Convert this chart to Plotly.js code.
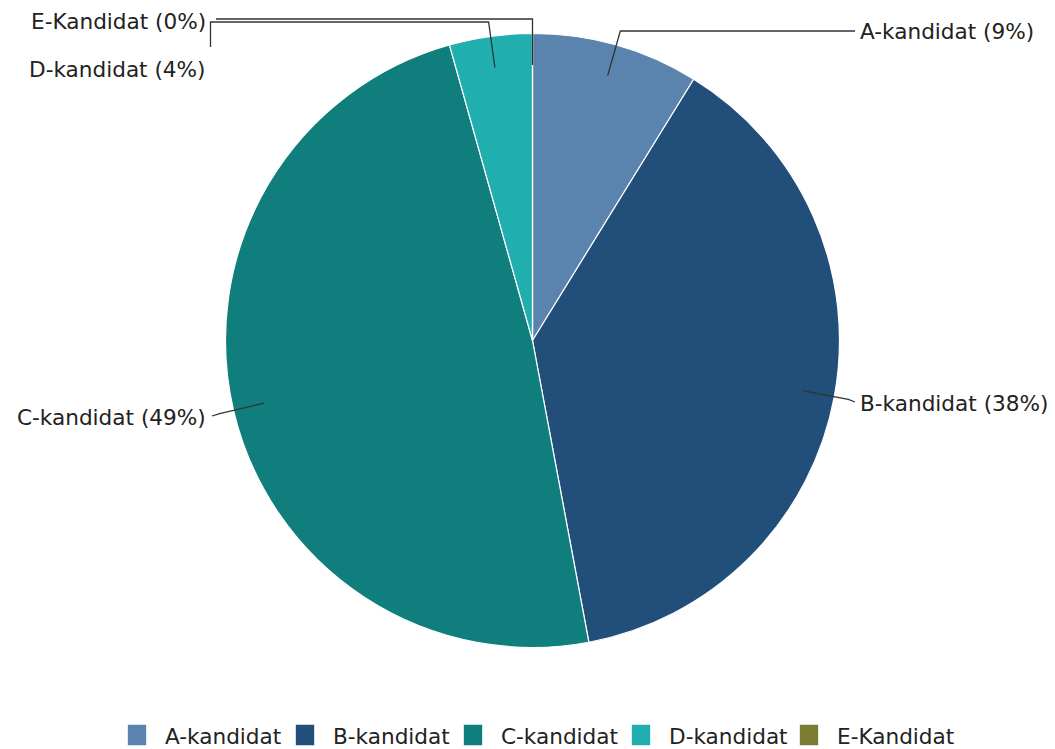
<!DOCTYPE html>
<html>
<head>
<meta charset="utf-8">
<script src="https://cdn.plot.ly/plotly-3.0.1.min.js"></script>
<style>
  html, body { margin: 0; padding: 0; background: #fff; }
  #chart { width: 1055px; height: 749px; }
</style>
</head>
<body>
<div id="chart"></div>
<script>
// ---- data ----
const categories = ["A-kandidat", "B-kandidat", "C-kandidat", "D-kandidat", "E-Kandidat"];
const values = [8.8, 38.26, 48.58, 4.36, 0];
const colors = ["#5a83ad", "#224e7a", "#107e7d", "#20aeae", "#7b7b32"];

// ---- layout constants ----
const W = 1055, H = 749;
const CX = 532.5, CY = 340.5, R = 306;
const LEGEND_Y = 736;
const FONT = "DejaVu Sans, Verdana, sans-serif";
const FS = 21.6;
const TEXT_COLOR = "#222222";
const LINE_COLOR = "#333333";

// whole figure is the plot area; pie placed via its domain
const px = X => X / W;
const py = Y => 1 - Y / H;

const total = values.reduce((a, b) => a + b, 0);
let cum = 0;
const mids = values.map(v => { const m = (cum + v / 2) / total; cum += v; return m * 2 * Math.PI; });

function pointAt(theta, r) { return [CX + r * Math.sin(theta), CY - r * Math.cos(theta)]; }
function radiusToY(theta, y) { return (CY - y) / Math.cos(theta); }

// label placement (side, label position, leader route)
const labelSpec = [
  { side: "right", x: 858, y: 32, route: "toY", elbowY: 31, extra: [[855, 31]] },
  { side: "right", x: 858, y: 403, route: "toR", rf: 1.05, extra: [[855, 402]] },
  { side: "left", x: 208, y: 417, route: "toR", rf: 1.05, extra: [[212, 416]] },
  { side: "left", x: 208, y: 69, route: "toY", elbowY: 22, extra: [[210.5, 22], [210.5, 47]] },
  { side: "left", x: 208, y: 21, route: "toY", elbowY: 19, extra: [[216, 19]] }
];

const shapes = [], annotations = [];
categories.forEach((c, i) => {
  const t = mids[i];
  const s = labelSpec[i];
  const pts = [pointAt(t, 0.9 * R)];
  if (s.route === "toY") pts.push(pointAt(t, radiusToY(t, s.elbowY)));
  else pts.push(pointAt(t, s.rf * R));
  s.extra.forEach(p => pts.push(p));
  const path = pts.map((p, k) => (k ? "L" : "M") + px(p[0]).toFixed(5) + "," + py(p[1]).toFixed(5)).join(" ");
  shapes.push({ type: "path", xref: "paper", yref: "paper", path: path,
    line: { color: LINE_COLOR, width: 1.3 }, fillcolor: "rgba(0,0,0,0)" });
  const pct = Math.round(values[i] / total * 100);
  annotations.push({
    xref: "paper", yref: "paper", x: px(s.x), y: py(s.y),
    xanchor: s.side === "right" ? "left" : "right", yanchor: "middle",
    text: c + " (" + pct + "%)", showarrow: false,
    font: { family: FONT, size: FS, color: TEXT_COLOR }
  });
});

const RD = R + 1; // domain half-size
const trace = {
  type: "pie",
  labels: categories,
  values: values,
  marker: { colors: colors, line: { color: "#ffffff", width: 1.2 } },
  sort: false,
  direction: "clockwise",
  rotation: 0,
  textinfo: "none",
  hoverinfo: "label+percent",
  showlegend: true,
  domain: { x: [px(CX - RD), px(CX + RD)], y: [py(CY + RD), py(CY - RD)] }
};

const layout = {
  width: W, height: H,
  margin: { l: 0, r: 0, t: 0, b: 0, pad: 0 },
  paper_bgcolor: "#ffffff",
  plot_bgcolor: "#ffffff",
  font: { family: FONT, size: FS, color: TEXT_COLOR },
  showlegend: true,
  legend: {
    orientation: "h", x: px(545), xanchor: "center",
    y: 0.005, yanchor: "bottom",
    font: { family: FONT, size: FS, color: TEXT_COLOR },
    traceorder: "normal", itemwidth: 30, entrywidth: 123, entrywidthmode: "pixels"
  },
  shapes: shapes,
  annotations: annotations
};

Plotly.newPlot("chart", [trace], layout, { displayModeBar: false, staticPlot: true }).then(gd => {
  document.querySelectorAll(".legend .traces").forEach(g => {
    const txt = g.querySelector("text.legendtext");
    const tx = txt ? parseFloat(txt.getAttribute("x")) : 40;
    g.querySelectorAll(".legendpoints path").forEach(p => {
      p.setAttribute("transform", "translate(" + (tx - 28) + ",0) scale(1.7,1.9)");
    });
  });
  // nudge the legend row so its text is centred on LEGEND_Y
  const leg = document.querySelector(".legend");
  const firstTxt = document.querySelector(".legend text.legendtext");
  if (leg && firstTxt) {
    const bb = firstTxt.getBoundingClientRect();
    const host = document.getElementById("chart").getBoundingClientRect();
    const dy = LEGEND_Y - ((bb.top + bb.bottom) / 2 - host.top);
    const tr = leg.getAttribute("transform") || "";
    const m = tr.match(/translate\(\s*([-\d.]+)[ ,]+([-\d.]+)\s*\)/);
    if (m) leg.setAttribute("transform", "translate(" + m[1] + "," + (parseFloat(m[2]) + dy) + ")");
  }
});
</script>
</body>
</html>
